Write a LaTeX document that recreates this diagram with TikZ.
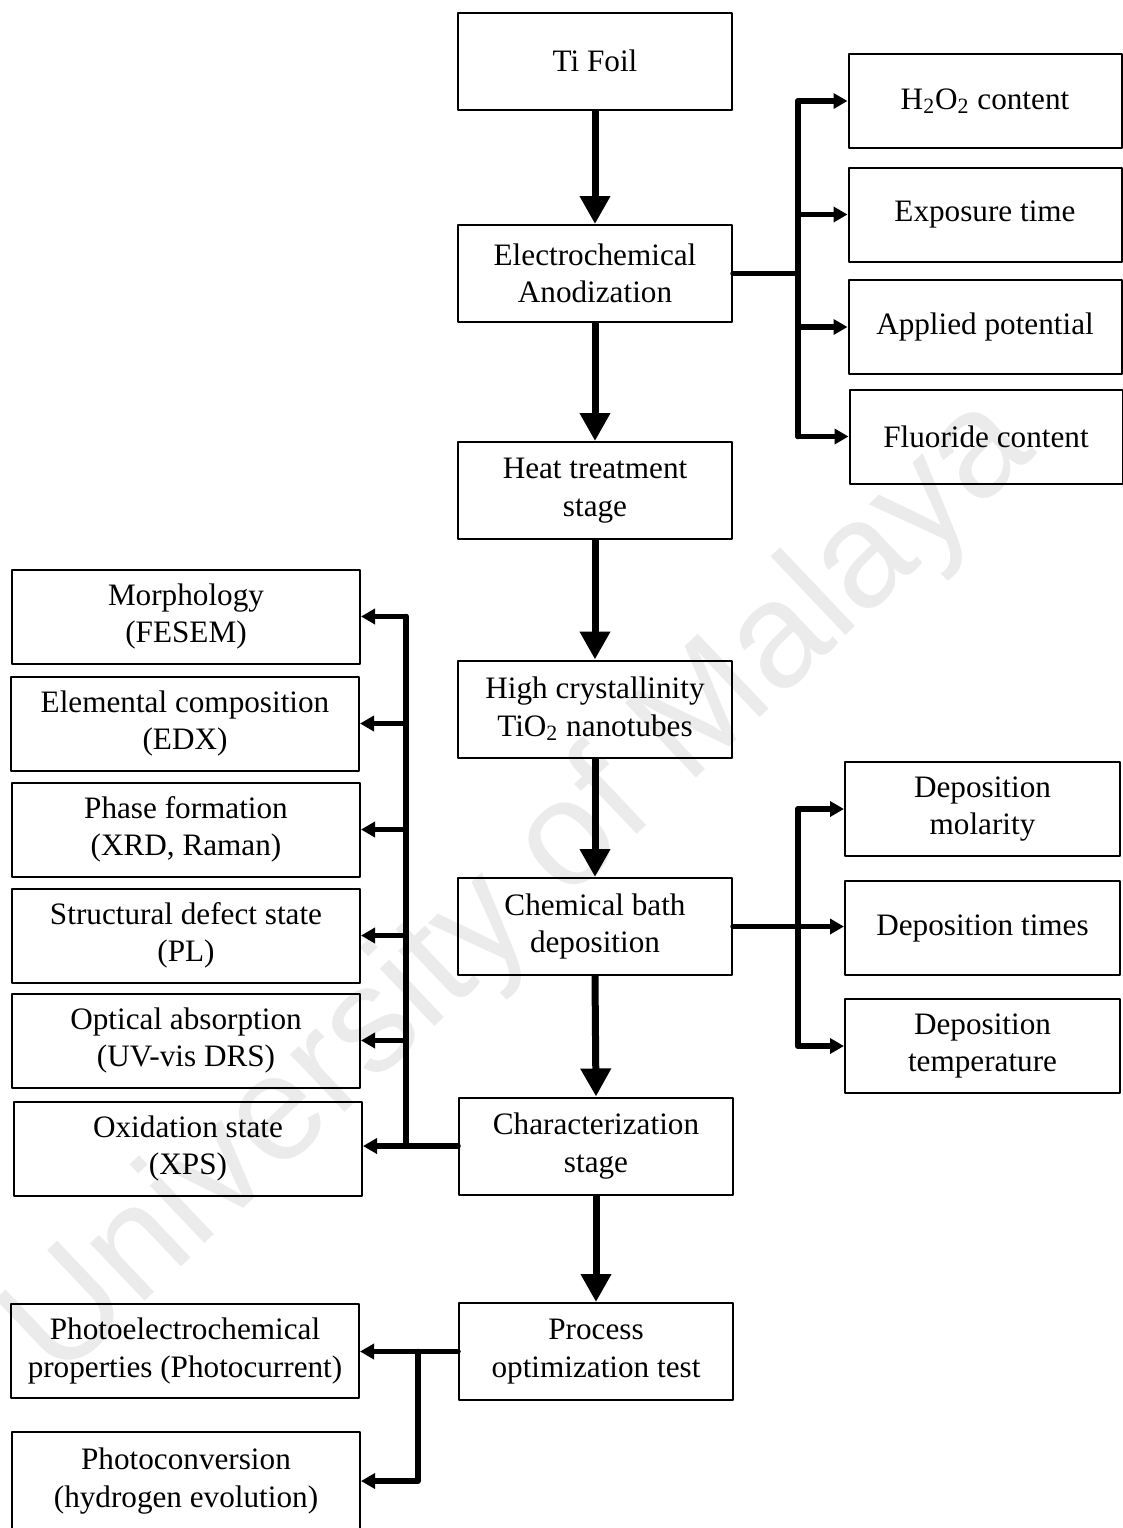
\documentclass[tikz,border=0pt]{standalone}
\usepackage{fontspec}
\setmainfont{Liberation Serif}
\newfontfamily\wmfont{Liberation Sans}
\usetikzlibrary{arrows.meta}

\tikzset{
  stage/.style={draw,line width=1pt,minimum width=137pt,minimum height=48.5pt,
    align=center,inner sep=0pt,font=\fontsize{15.6}{18.8}\selectfont},
  param/.style={stage,minimum width=136.5pt,minimum height=47pt},
  result/.style={stage,minimum width=174pt,minimum height=47pt},
  flow/.style={line width=3.5pt,line cap=butt,-{Triangle[length=14pt,width=14.5pt]}},
  branch/.style={line width=2.75pt,-{Triangle[length=7pt,width=7.5pt]}},
  bus/.style={line width=2.75pt},
}

\begin{document}
\begin{tikzpicture}[line cap=round,line join=round,x=0.5pt,y=-0.5pt]
\useasboundingbox (0,0) rectangle (1123,1528);
\clip (0,0) rectangle (1123,1528);
% watermark
\node[rotate=43.5,text=black!8,font=\wmfont\fontsize{75}{75}\selectfont] (mark) at (522,890) {University of Malaya};

% main stages
\node[stage] (foil) at (595,61) {\raisebox{-2pt}{Ti Foil}};
\node[stage] (anod) at (595,273.5) {Electrochemical\\Anodization};
\node[stage] (heat) at (595,490.5) {Heat treatment\\stage};
\node[stage] (tnt) at (595,709) {High crystallinity\\TiO\textsubscript{2} nanotubes};
\node[stage] (cbd) at (595,926.5) {Chemical bath\\deposition};
\node[stage] (char) at (596,1146) {Characterization\\stage};
\node[stage] (test) at (596,1351.5) {Process\\optimization test};

% anodization parameters
\node[param] (h2o2) at (985,101) {H\textsubscript{2}O\textsubscript{2} content};
\node[param] (expo) at (985,214.5) {Exposure time};
\node[param] (volt) at (985,327) {Applied potential};
\node[param] (fluo) at (986,436.5) {Fluoride content};

% deposition parameters
\node[param,minimum width=137.5pt] (molar) at (982.5,809) {Deposition\\molarity};
\node[param,minimum width=137.5pt] (dtime) at (982.5,928) {Deposition times};
\node[param,minimum width=137.5pt] (dtemp) at (982.5,1046) {Deposition\\temperature};

% characterization results
\node[result] (fesem) at (186,616.5) {Morphology\\(FESEM)};
\node[result] (edx) at (185,723.5) {Elemental composition\\(EDX)};
\node[result] (xrd) at (186,829.5) {Phase formation\\(XRD, Raman)};
\node[result] (pl) at (186,935.5) {Structural defect state\\(PL)};
\node[result] (drs) at (186,1040.5) {Optical absorption\\(UV-vis DRS)};
\node[result] (xps) at (188,1148.5) {Oxidation state\\(XPS)};

% test results
\node[result] (pec) at (185,1351) {Photoelectrochemical\\properties (Photocurrent)};
\node[result,minimum height=49pt] (h2ev) at (186,1481) {Photoconversion\\(hydrogen evolution)};

\coordinate (rbus) at (798,0);
\coordinate (lbus) at (406,0);
\coordinate (pbus) at (418,0);

% main flow
\foreach \a/\b in {foil/anod,anod/heat,heat/tnt,tnt/cbd,cbd/char,char/test}
  \draw[flow] (\a.south) -- (\b.north);

% anodization branches
\draw[bus] (anod.east) -- (anod.east -| rbus);
\draw[bus] (h2o2.west -| rbus) -- (fluo.west -| rbus);
\foreach \p in {h2o2,expo,volt,fluo}
  \draw[branch] (\p.west -| rbus) -- (\p.west);

% deposition branches
\draw[branch] (cbd.east) -- (cbd.east -| dtime.west);
\draw[bus] (molar.west -| rbus) -- (dtemp.west -| rbus);
\foreach \p in {molar,dtemp}
  \draw[branch] (\p.west -| rbus) -- (\p.west);

% characterization branches
\draw[branch] (char.west) -- (char.west -| xps.east);
\draw[bus] (char.west -| lbus) -- (fesem.east -| lbus);
\foreach \p in {fesem,edx,xrd,pl,drs}
  \draw[branch] (\p.east -| lbus) -- (\p.east);

% optimization branches
\draw[branch] (test.west) -- (test.west -| pec.east);
\draw[branch] (test.west -| pbus) -- (h2ev.east -| pbus) -- (h2ev.east);
\end{tikzpicture}
\end{document}
